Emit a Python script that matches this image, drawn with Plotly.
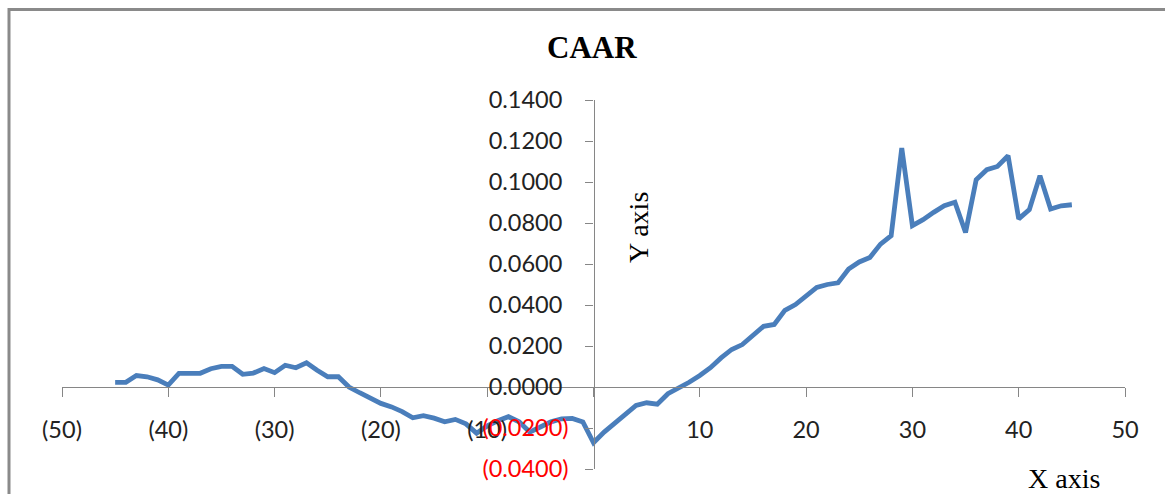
import plotly.graph_objects as go

# Event window (days relative to the event) and cumulative average abnormal return
days = list(range(-45, 46))
caar = [
    0.0023, 0.0023, 0.0056, 0.0050, 0.0035, 0.0009, 0.0066, 0.0066, 0.0067, 0.0089,
    0.0101, 0.0101, 0.0062, 0.0068, 0.0090, 0.0070, 0.0106, 0.0094, 0.0118, 0.0082,
    0.0050, 0.0050, 0.0000, -0.0028, -0.0055, -0.0080, -0.0097, -0.0120, -0.0150, -0.0140,
    -0.0152, -0.0170, -0.0158, -0.0180, -0.0225, -0.0190, -0.0165, -0.0145, -0.0170, -0.0220,
    -0.0195, -0.0170, -0.0155, -0.0153, -0.0170, -0.0272, -0.0220, -0.0175, -0.0129, -0.0090,
    -0.0077, -0.0084, -0.0033, -0.0006, 0.0023, 0.0056, 0.0094, 0.0142, 0.0183, 0.0207,
    0.0251, 0.0296, 0.0305, 0.0374, 0.0402, 0.0443, 0.0486, 0.0500, 0.0508, 0.0576,
    0.0610, 0.0632, 0.0697, 0.0738, 0.1166, 0.0787, 0.0816, 0.0852, 0.0884, 0.0901,
    0.0754, 0.1011, 0.1060, 0.1076, 0.1128, 0.0820, 0.0865, 0.1031, 0.0868, 0.0884,
    0.0889,
]

x_tick_vals = [-50, -40, -30, -20, -10, 0, 10, 20, 30, 40, 50]
x_tick_text = ["(50)", "(40)", "(30)", "(20)", "(10)", "", "10", "20", "30", "40", "50"]
y_tick_vals = [-0.04, -0.02, 0.0, 0.02, 0.04, 0.06, 0.08, 0.10, 0.12, 0.14]

def fmt_y(v):
    if v < 0:
        return "<span style='color:#ff0000'>(%.4f)</span>" % abs(v)
    return "%.4f<span style='color:rgba(0,0,0,0)'>)</span>" % v

y_tick_text = [fmt_y(v) for v in y_tick_vals]

W, H = 1165, 494
ML, MR, MT, MB = 62, 40, 100, 25
PW, PH = W - ML - MR, H - MT - MB

def px_x(p):
    return (p - ML) / PW

def px_y(p):
    return (H - MB - p) / PH

x_range = [-50, 50]
y_range = [-0.04, 0.14]

fig = go.Figure()
fig.add_trace(go.Scatter(
    x=days, y=caar, mode="lines",
    line=dict(color="#4a7ebb", width=4.8),
    showlegend=False, hoverinfo="x+y",
))

axis_gray = "#868686"
tick_font = dict(family="Lato, Carlito, sans-serif", size=23.5, color="#222222")

fig.update_layout(
    width=W, height=H,
    margin=dict(l=ML, r=MR, t=MT, b=MB),
    paper_bgcolor="white", plot_bgcolor="white",
    xaxis=dict(
        range=x_range, showgrid=False, zeroline=False,
        showline=True, linecolor=axis_gray, linewidth=1.3,
        ticks="outside", ticklen=9, tickwidth=1.3, tickcolor=axis_gray,
        tickmode="array", tickvals=x_tick_vals, ticktext=x_tick_text,
        tickfont=tick_font, ticklabelstandoff=13,
        anchor="free", position=(0 - y_range[0]) / (y_range[1] - y_range[0]),
        automargin=False,
    ),
    yaxis=dict(
        range=y_range, showgrid=False, zeroline=False,
        showline=True, linecolor=axis_gray, linewidth=1.3,
        ticks="outside", ticklen=8, tickwidth=1.3, tickcolor=axis_gray,
        tickmode="array", tickvals=y_tick_vals, ticktext=y_tick_text,
        tickfont=tick_font, ticklabelstandoff=12,
        anchor="free", position=(0 - x_range[0]) / (x_range[1] - x_range[0]),
        automargin=False,
    ),
    shapes=[dict(
        type="rect", xref="paper", yref="paper",
        x0=px_x(9), x1=px_x(1250), y0=px_y(560), y1=px_y(9.5),
        line=dict(color="#8a8a8a", width=3), fillcolor="rgba(0,0,0,0)",
        layer="below",
    )],
    annotations=[
        dict(text="<b>CAAR</b>", xref="paper", yref="paper",
             x=px_x(591.5), y=px_y(48), xanchor="center", yanchor="middle",
             showarrow=False,
             font=dict(family="Liberation Serif, Times New Roman, serif", size=31, color="black")),
        dict(text="Y axis", xref="paper", yref="paper", textangle=-90,
             x=px_x(638), y=px_y(228), xanchor="center", yanchor="middle",
             showarrow=False,
             font=dict(family="Liberation Serif, Times New Roman, serif", size=28, color="black")),
        dict(text="X axis", xref="paper", yref="paper",
             x=px_x(1064), y=px_y(478), xanchor="center", yanchor="middle",
             showarrow=False,
             font=dict(family="Liberation Serif, Times New Roman, serif", size=28, color="black")),
    ],
)

fig.write_html("out.html")
